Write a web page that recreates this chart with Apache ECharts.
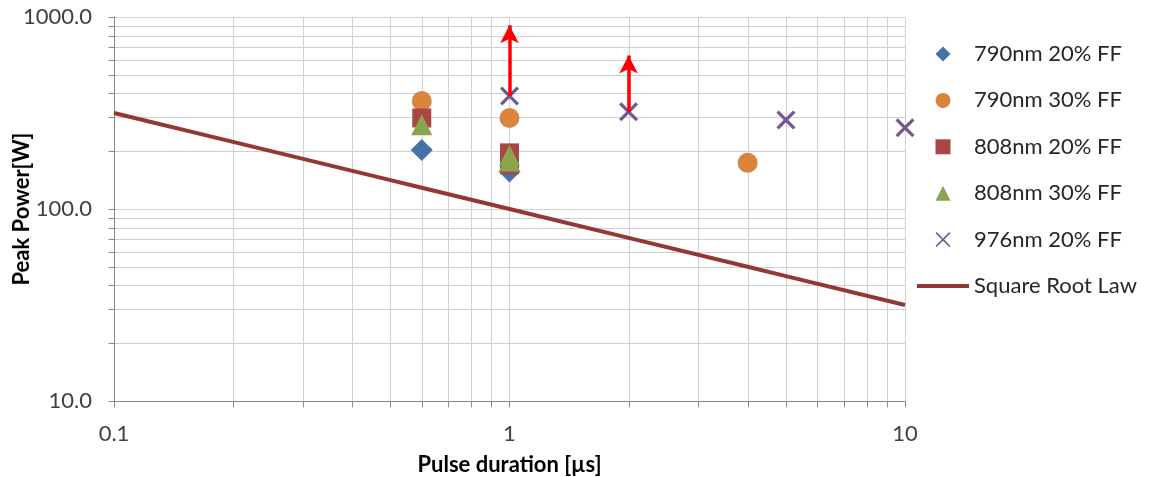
<!DOCTYPE html>
<html>
<head>
<meta charset="utf-8">
<script src="https://cdn.jsdelivr.net/npm/echarts@6/dist/echarts.min.js"></script>
<style>html,body{margin:0;padding:0;background:#fff}#c{width:1151px;height:477px}</style>
</head>
<body>
<div id="c"></div>
<script>
// ---- data ----
const s790_20 = [[0.6, 203], [1, 157]];
const s790_30 = [[0.6, 365], [1, 298], [4, 174]];
const s808_20 = [[0.6, 298], [1, 196], [1, 170]];
const s808_30 = [[0.6, 275], [1, 190], [1, 178]];
const s976_20 = [[1, 388], [2, 321], [5, 291], [10, 265]];
const sqrtLaw = [[0.1, 316.2], [0.2, 223.6], [0.5, 141.4], [0.6, 129.1], [1, 100], [2, 70.7], [4, 50], [5, 44.7], [10, 31.6]];
const arrows = [[[1, 388], [1, 905]], [[2, 321], [2, 630]]];
const xGridVals = [0.1,0.2,0.3,0.4,0.5,0.6,0.7,0.8,0.9,1,2,3,4,5,6,7,8,9,10];
const yGridVals = [10,20,30,40,50,60,70,80,90,100,200,300,400,500,600,700,800,900,1000];
const xTickLabels = ['0.1', '1', '10'];
const yTickLabels = ['10.0', '100.0', '1000.0'];
const seriesNames = ['790nm 20% FF', '790nm 30% FF', '808nm 20% FF', '808nm 30% FF', '976nm 20% FF', 'Square Root Law'];

const X_MIN = 0.1, X_MAX = 10, Y_MIN = 10, Y_MAX = 1000;
const FONT = 'Lato, "Open Sans", sans-serif';
const FS = 22;
const crossPath = 'path://M0,1.2 L1.2,0 L5,3.8 L8.8,0 L10,1.2 L6.2,5 L10,8.8 L8.8,10 L5,6.2 L1.2,10 L0,8.8 L3.8,5 Z';
const crossPathThin = 'path://M0,0.8 L0.8,0 L5,4.2 L9.2,0 L10,0.8 L5.8,5 L10,9.2 L9.2,10 L5,5.8 L0.8,10 L0,9.2 L4.2,5 Z';
const legendIcons = [
  'path://M5,0 L10,5 L5,10 L0,5 Z',
  'path://M0,5 A5,5 0 1,1 10,5 A5,5 0 1,1 0,5 Z',
  'path://M0,0 L10,0 L10,10 L0,10 Z',
  'path://M5,0 L10,10 L0,10 Z',
  crossPathThin,
  'path://M0,0 L52,0 L52,4 L0,4 Z'
];

const chart = echarts.init(document.getElementById('c'), null, {renderer: 'canvas'});
const r = v => Math.round(v) + 0.5;

function xGridItem(params, api) {
  const v = api.value(0);
  const b = api.coord([v, Y_MIN]);
  const t = api.coord([v, Y_MAX]);
  const x = r(b[0]);
  const ch = [];
  if (v !== X_MIN) ch.push({type: 'line', shape: {x1: x, y1: r(b[1]), x2: x, y2: r(t[1])}, style: {stroke: '#d0d0d0', lineWidth: 1}});
  ch.push({type: 'line', shape: {x1: x, y1: r(b[1]), x2: x, y2: r(b[1]) + 6}, style: {stroke: '#898989', lineWidth: 1}});
  return {type: 'group', children: ch};
}
function yGridItem(params, api) {
  const v = api.value(1);
  const a = api.coord([X_MIN, v]);
  const b = api.coord([X_MAX, v]);
  const y = r(a[1]);
  const ch = [];
  if (v !== Y_MIN) ch.push({type: 'line', shape: {x1: r(a[0]), y1: y, x2: r(b[0]), y2: y}, style: {stroke: '#d0d0d0', lineWidth: 1}});
  ch.push({type: 'line', shape: {x1: r(a[0]) - 6, y1: y, x2: r(a[0]), y2: y}, style: {stroke: '#898989', lineWidth: 1}});
  return {type: 'group', children: ch};
}

const option = {
  animation: false,
  textStyle: {fontFamily: FONT},
  grid: {left: 114, right: 246, top: 17, bottom: 76, containLabel: false, outerBoundsMode: 'none'},
  legend: {
    orient: 'vertical',
    left: 912,
    top: 38,
    itemWidth: 52,
    itemHeight: 15,
    itemGap: 24.4,
    symbolKeepAspect: true,
    data: seriesNames.map((n, i) => i === 5
      ? {name: n, icon: legendIcons[i], lineStyle: {width: 4, color: '#953735'}}
      : {name: n, icon: legendIcons[i]}),
    textStyle: {fontSize: FS, color: '#262626', fontFamily: FONT},
    selectedMode: false
  },
  xAxis: {
    type: 'log', logBase: 10, min: X_MIN, max: X_MAX,
    axisLine: {show: true, lineStyle: {color: '#898989', width: 1}},
    axisTick: {show: false},
    splitLine: {show: false},
    axisLabel: {
      fontSize: FS, color: '#404040', margin: 22, fontFamily: FONT,
      formatter: v => { const e = Math.round(Math.log10(v)) + 1; return xTickLabels[e] || ''; }
    },
    name: 'Pulse duration [µs]', nameLocation: 'middle', nameGap: 53, nameMoveOverlap: false,
    nameTextStyle: {fontSize: FS, fontWeight: 'bold', color: '#000', fontFamily: FONT}
  },
  yAxis: {
    type: 'log', logBase: 10, min: Y_MIN, max: Y_MAX,
    axisLine: {show: true, lineStyle: {color: '#898989', width: 1}},
    axisTick: {show: false},
    splitLine: {show: false},
    axisLabel: {
      fontSize: FS, color: '#404040', margin: 22, fontFamily: FONT,
      formatter: v => { const e = Math.round(Math.log10(v)) - 1; return yTickLabels[e] || ''; }
    },
    name: 'Peak Power[W]', nameLocation: 'middle', nameGap: 81, nameRotate: 90, nameMoveOverlap: false,
    nameTextStyle: {fontSize: FS, fontWeight: 'bold', color: '#000', fontFamily: FONT}
  },
  series: [
    {type: 'custom', name: 'xgrid', silent: true, z: 0, data: xGridVals.map(v => [v, Y_MIN]), renderItem: xGridItem, clip: false},
    {type: 'custom', name: 'ygrid', silent: true, z: 0, data: yGridVals.map(v => [X_MIN, v]), renderItem: yGridItem, clip: false},
    {type: 'line', name: 'Square Root Law', data: sqrtLaw, symbol: 'none', z: 2,
      lineStyle: {color: '#953735', width: 4}, itemStyle: {color: '#953735'}},
    {type: 'scatter', name: '790nm 20% FF', data: s790_20, symbol: 'diamond', symbolSize: 22, z: 3,
      itemStyle: {color: '#4572a7', opacity: 1}},
    {type: 'scatter', name: '790nm 30% FF', data: s790_30, symbol: 'circle', symbolSize: 20, z: 3,
      itemStyle: {color: '#db843d', opacity: 1}},
    {type: 'scatter', name: '808nm 20% FF', data: s808_20, symbol: 'rect', symbolSize: 19, z: 3,
      itemStyle: {color: '#aa4643', opacity: 1}},
    {type: 'scatter', name: '808nm 30% FF', data: s808_30, symbol: 'triangle', symbolSize: 21, z: 3,
      itemStyle: {color: '#89a54e', opacity: 1}},
    {type: 'scatter', name: '976nm 20% FF', data: s976_20, symbol: crossPath, symbolSize: 19, z: 4,
      itemStyle: {color: '#71588f', opacity: 1},
      markLine: {
        silent: true,
        lineStyle: {color: '#ff0000', width: 3.5, type: 'solid'},
        label: {show: false},
        emphasis: {disabled: true},
        data: arrows.map(a => [
          {coord: a[0], symbol: 'none'},
          {coord: a[1], symbol: 'arrow', symbolSize: [14, 18]}
        ])
      }}
  ]
};
chart.setOption(option);
</script>
</body>
</html>
